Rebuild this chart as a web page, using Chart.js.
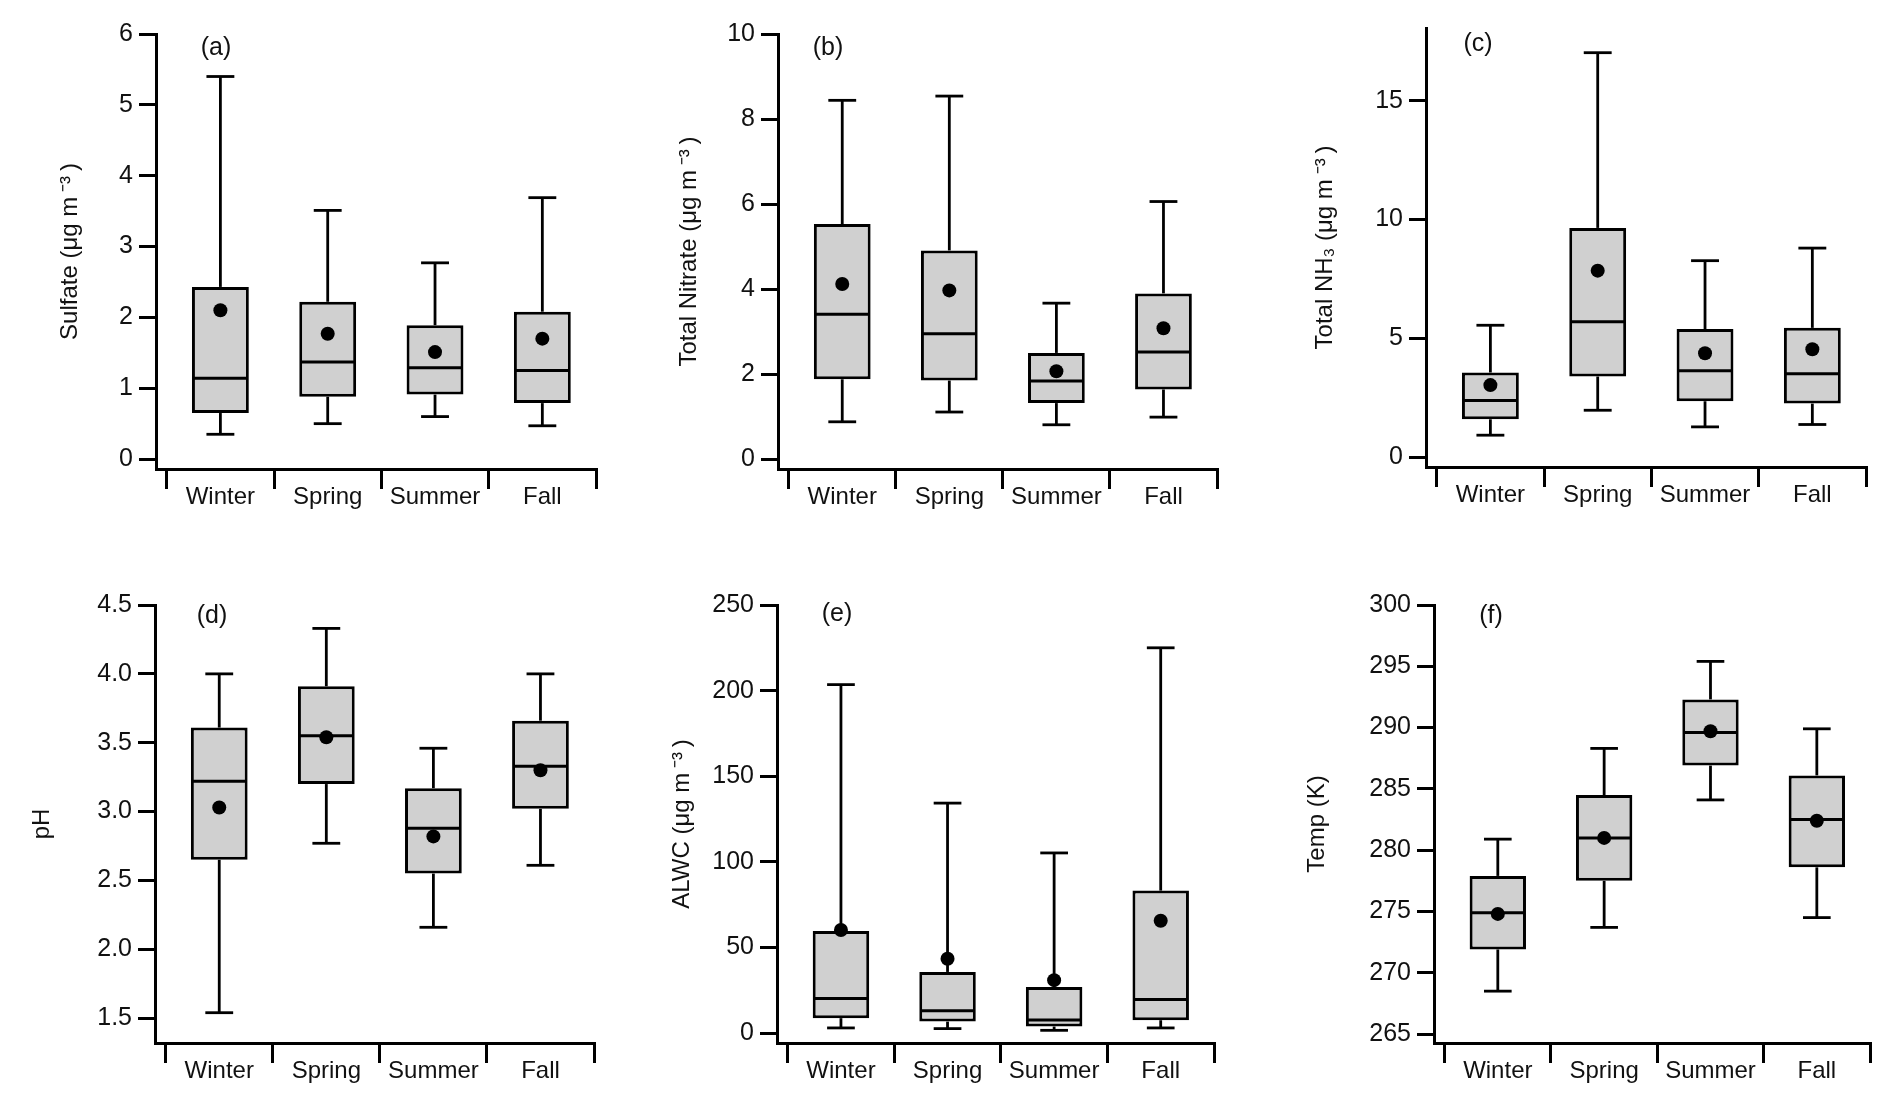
<!DOCTYPE html>
<html>
<head>
<meta charset="utf-8">
<title>Seasonal box plots</title>
<script src="https://cdn.jsdelivr.net/npm/chart.js@4.4.1/dist/chart.umd.min.js"></script>
<style>
  html, body { margin: 0; padding: 0; background: #fff; }
  #page { position: relative; width: 1892px; height: 1099px; overflow: hidden; background: #fff; }
  #page canvas { position: absolute; }
</style>
</head>
<body>
<div id="page"></div>
<script>
// Seasons on the x axis
const seasons = ['Winter', 'Spring', 'Summer', 'Fall'];

// (a) Sulfate
const sulfateMin = [0.35, 0.50, 0.60, 0.47];
const sulfateQ1 = [0.65, 0.88, 0.91, 0.79];
const sulfateMedian = [1.14, 1.37, 1.29, 1.25];
const sulfateQ3 = [2.43, 2.22, 1.89, 2.08];
const sulfateMax = [5.40, 3.51, 2.77, 3.69];
const sulfateMean = [2.10, 1.77, 1.51, 1.70];
const sulfateTicks = ['0', '1', '2', '3', '4', '5', '6'];

// (b) Total nitrate
const nitrateMin = [0.88, 1.11, 0.81, 0.99];
const nitrateQ1 = [1.88, 1.85, 1.32, 1.64];
const nitrateMedian = [3.41, 2.95, 1.84, 2.52];
const nitrateQ3 = [5.53, 4.91, 2.50, 3.90];
const nitrateMax = [8.44, 8.54, 3.67, 6.06];
const nitrateMean = [4.12, 3.97, 2.07, 3.08];
const nitrateTicks = ['0', '2', '4', '6', '8', '10'];

// (c) Total NH3
const nh3Min = [0.92, 1.97, 1.27, 1.37];
const nh3Q1 = [1.59, 3.39, 2.35, 2.25];
const nh3Median = [2.38, 5.70, 3.63, 3.51];
const nh3Q3 = [3.56, 9.65, 5.39, 5.44];
const nh3Max = [5.55, 17.03, 8.27, 8.80];
const nh3Mean = [3.03, 7.85, 4.37, 4.54];
const nh3Ticks = ['0', '5', '10', '15'];

// (d) pH
const phMin = [1.54, 2.77, 2.16, 2.61];
const phQ1 = [2.65, 3.20, 2.55, 3.02];
const phMedian = [3.22, 3.55, 2.88, 3.33];
const phQ3 = [3.61, 3.91, 3.17, 3.66];
const phMax = [4.00, 4.33, 3.46, 4.00];
const phMean = [3.03, 3.54, 2.82, 3.30];
const phTicks = ['1.5', '2.0', '2.5', '3.0', '3.5', '4.0', '4.5'];

// (e) ALWC
const alwcMin = [3.0, 2.6, 1.6, 3.0];
const alwcQ1 = [8.7, 6.7, 3.8, 7.5];
const alwcMedian = [20.2, 13.1, 7.7, 19.6];
const alwcQ3 = [59.6, 35.7, 26.9, 83.2];
const alwcMax = [203.5, 134.3, 105.2, 225.0];
const alwcMean = [60.2, 43.4, 30.9, 65.6];
const alwcTicks = ['0', '50', '100', '150', '200', '250'];

// (f) Temperature
const tempMin = [268.5, 273.7, 284.1, 274.5];
const tempQ1 = [271.9, 277.5, 286.9, 278.6];
const tempMedian = [274.9, 281.0, 289.6, 282.5];
const tempQ3 = [277.9, 284.5, 292.3, 286.1];
const tempMax = [280.9, 288.3, 295.4, 289.9];
const tempMean = [274.8, 281.0, 289.7, 282.4];
const tempTicks = ['265', '270', '275', '280', '285', '290', '295', '300'];

const FONT = "'Liberation Sans', Arial, sans-serif";
const INK = '#111';
const BOX_WIDTH = 0.53;   // in category units
const CAP_WIDTH = 0.26;
const AXIS_W = 150;       // fixed width of the y axis box
const PAD_TOP = 20, PAD_RIGHT = 20, X_AXIS_H = 50;
const UNIT = '(μg m\u2009⁻³\u2009)';

// panel layout: plot frame on the page, axis ranges, title / tag placement
const panels = [
  { tag: '(a)', title: 'Sulfate ' + UNIT, min: sulfateMin, q1: sulfateQ1, med: sulfateMedian, q3: sulfateQ3, max: sulfateMax, mean: sulfateMean, ticks: sulfateTicks,
    yMin: -0.14, yMax: 6, frame: { left: 156, right: 596, top: 33, bottom: 469 }, titleGap: 86, tagAt: [60, 14] },
  { tag: '(b)', title: 'Total Nitrate ' + UNIT, min: nitrateMin, q1: nitrateQ1, med: nitrateMedian, q3: nitrateQ3, max: nitrateMax, mean: nitrateMean, ticks: nitrateTicks,
    yMin: -0.23, yMax: 10, frame: { left: 778, right: 1217, top: 33, bottom: 469 }, titleGap: 89, tagAt: [50, 14] },
  { tag: '(c)', title: 'Total NH₃ ' + UNIT, min: nh3Min, q1: nh3Q1, med: nh3Median, q3: nh3Q3, max: nh3Max, mean: nh3Mean, ticks: nh3Ticks,
    yMin: -0.42, yMax: 18.07, frame: { left: 1426, right: 1866, top: 27, bottom: 467 }, titleGap: 101, tagAt: [52, 16] },
  { tag: '(d)', title: 'pH', min: phMin, q1: phQ1, med: phMedian, q3: phQ3, max: phMax, mean: phMean, ticks: phTicks,
    yMin: 1.32, yMax: 4.5, frame: { left: 155, right: 594, top: 604, bottom: 1043 }, titleGap: 113, tagAt: [57, 11] },
  { tag: '(e)', title: 'ALWC ' + UNIT, min: alwcMin, q1: alwcQ1, med: alwcMedian, q3: alwcQ3, max: alwcMax, mean: alwcMean, ticks: alwcTicks,
    yMin: -5.8, yMax: 250, frame: { left: 777, right: 1214, top: 604, bottom: 1043 }, titleGap: 95, tagAt: [60, 9] },
  { tag: '(f)', title: 'Temp (K)', min: tempMin, q1: tempQ1, med: tempMedian, q3: tempQ3, max: tempMax, mean: tempMean, ticks: tempTicks,
    yMin: 264.27, yMax: 300, frame: { left: 1434, right: 1870, top: 604, bottom: 1043 }, titleGap: 117, tagAt: [57, 11] }
];

// whiskers, caps and median line, drawn right after the boxes
function whiskerPlugin(p) {
  return {
    id: 'whiskers',
    afterDatasetDraw(chart, args) {
      if (args.index !== 1) return;
      const { ctx } = chart;
      const x = chart.scales.x, y = chart.scales.y;
      const seg = (x1, y1, x2, y2) => {
        ctx.beginPath();
        ctx.moveTo(x1, y1);
        ctx.lineTo(x2, y2);
        ctx.stroke();
      };
      ctx.save();
      ctx.strokeStyle = '#000';
      seasons.forEach((s, i) => {
        const cx = x.getPixelForValue(i);
        const half = x.getPixelForValue(i + BOX_WIDTH / 2) - cx;
        const cap = x.getPixelForValue(i + CAP_WIDTH / 2) - cx;
        const yLo = y.getPixelForValue(p.min[i]);
        const yQ1 = y.getPixelForValue(p.q1[i]);
        const yMed = y.getPixelForValue(p.med[i]);
        const yQ3 = y.getPixelForValue(p.q3[i]);
        const yHi = y.getPixelForValue(p.max[i]);
        ctx.lineWidth = 2.8;
        seg(cx, yQ3, cx, yHi);
        seg(cx - cap, yHi, cx + cap, yHi);
        seg(cx, yQ1, cx, yLo);
        seg(cx - cap, yLo, cx + cap, yLo);
        ctx.lineWidth = 3;
        seg(cx - half + 1.5, yMed, cx + half - 1.5, yMed);
      });
      ctx.restore();
    }
  };
}

// (a), (b) ... inside the plot, near its top left
function tagPlugin(p) {
  return {
    id: 'panelTag',
    afterDraw(chart) {
      const { ctx, chartArea } = chart;
      ctx.save();
      ctx.font = '25px ' + FONT;
      ctx.fillStyle = INK;
      ctx.textAlign = 'center';
      ctx.textBaseline = 'middle';
      ctx.fillText(p.tag, chartArea.left + p.tagAt[0], chartArea.top + p.tagAt[1]);
      ctx.restore();
    }
  };
}

const page = document.getElementById('page');

panels.forEach(p => {
  const f = p.frame;
  const w = f.right - f.left + AXIS_W + PAD_RIGHT;
  const h = f.bottom - f.top + PAD_TOP + X_AXIS_H;
  const canvas = document.createElement('canvas');
  canvas.width = w;
  canvas.height = h;
  canvas.style.left = (f.left - AXIS_W) + 'px';
  canvas.style.top = (f.top - PAD_TOP) + 'px';
  canvas.style.width = w + 'px';
  canvas.style.height = h + 'px';
  page.appendChild(canvas);

  new Chart(canvas, {
    type: 'bar',
    data: {
      datasets: [
        {
          type: 'scatter',
          data: seasons.map((s, i) => ({ x: i, y: p.mean[i] })),
          pointRadius: 7,
          pointHoverRadius: 7,
          pointBackgroundColor: '#000',
          pointBorderWidth: 0
        },
        {
          type: 'bar',
          data: seasons.map((s, i) => ({ x: i, y: [p.q1[i], p.q3[i]] })),
          backgroundColor: '#d0d0d0',
          borderColor: '#000',
          borderWidth: 3,
          borderSkipped: false,
          barPercentage: BOX_WIDTH,
          categoryPercentage: 1
        }
      ]
    },
    options: {
      responsive: false,
      animation: false,
      events: [],
      layout: { padding: { top: PAD_TOP, right: PAD_RIGHT, left: 0, bottom: 0 } },
      plugins: { legend: { display: false }, tooltip: { enabled: false } },
      scales: {
        x: {
          type: 'linear',
          min: -0.6,
          max: 3.5,
          offset: false,
          bounds: 'data',
          afterBuildTicks: axis => { axis.ticks = seasons.map((s, i) => ({ value: i })); },
          afterFit: axis => { axis.height = X_AXIS_H; },
          grid: { offset: true, drawOnChartArea: false, drawTicks: true, tickLength: 20, color: '#000', lineWidth: 3 },
          border: { color: '#000', width: 3 },
          ticks: {
            callback: (v, i) => seasons[i],
            font: { family: FONT, size: 24 },
            color: INK,
            padding: -6,
            maxRotation: 0,
            autoSkip: false
          }
        },
        y: {
          min: p.yMin,
          max: p.yMax,
          bounds: 'data',
          afterBuildTicks: axis => { axis.ticks = p.ticks.map(t => ({ value: parseFloat(t) })); },
          afterFit: axis => { axis.width = AXIS_W; },
          grid: { drawOnChartArea: false, drawTicks: true, tickLength: 17, color: '#000', lineWidth: 3 },
          border: { color: '#000', width: 3 },
          ticks: {
            callback: (v, i) => p.ticks[i],
            font: { family: FONT, size: 25 },
            color: INK,
            padding: 6,
            autoSkip: false
          },
          title: {
            display: true,
            text: p.title,
            font: { family: FONT, size: 24 },
            color: INK,
            padding: { top: AXIS_W - p.titleGap - 14.4, bottom: 0 }
          }
        }
      }
    },
    plugins: [whiskerPlugin(p), tagPlugin(p)]
  });
});
</script>
</body>
</html>
